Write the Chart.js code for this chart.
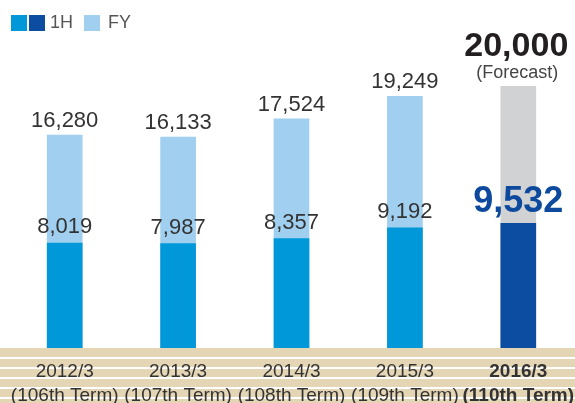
<!DOCTYPE html>
<html>
<head>
<meta charset="utf-8">
<script src="https://cdn.jsdelivr.net/npm/chart.js@4.4.0/dist/chart.umd.min.js"></script>
<style>
  body { margin: 0; background: #fff; font-family: "Liberation Sans", Arial, sans-serif; }
  #wrap { position: relative; width: 575px; height: 403px; }
  #legend { position: absolute; left: 11px; top: 12px; display: flex; align-items: center; font-size: 18px; color: #555; }
  #legend .sw { width: 16px; height: 16px; display: inline-block; }
</style>
</head>
<body>
<div id="wrap">
  <canvas id="salesChart" width="575" height="403"></canvas>
  <div id="legend">
    <span class="sw" style="background:#0098d9"></span>
    <span class="sw" style="background:#0c4da2;margin-left:2px"></span>
    <span style="margin-left:5px">1H</span>
    <span class="sw" style="background:#a0cfef;margin-left:11px"></span>
    <span style="margin-left:8px">FY</span>
  </div>
</div>
<script>
// chart values
const years = ['2012/3', '2013/3', '2014/3', '2015/3', '2016/3'];
const terms = ['(106th Term)', '(107th Term)', '(108th Term)', '(109th Term)', '(110th Term)'];
const firstHalf = [8019, 7987, 8357, 9192, 9532];
const fullYear = [16280, 16133, 17524, 19249, 20000];
const forecastNote = '(Forecast)';

const last = years.length - 1;
const fmt = v => v.toLocaleString('en-US');

// striped beige band under the bars
const stripes = {
  id: 'stripes',
  beforeDraw(chart) {
    const ctx = chart.ctx;
    const top = chart.chartArea.bottom;
    ctx.save();
    ctx.fillStyle = '#e4d5b5';
    ctx.fillRect(0, top, chart.width, chart.height - top);
    ctx.fillStyle = '#ffffff';
    for (let y = top + 9; y < chart.height; y += 10) {
      ctx.fillRect(0, y, chart.width, 2);
    }
    ctx.restore();
  }
};

// value labels over the bars
const valueLabels = {
  id: 'valueLabels',
  afterDatasetsDraw(chart) {
    const ctx = chart.ctx;
    const h1 = chart.getDatasetMeta(0).data;
    const fy = chart.getDatasetMeta(1).data;
    ctx.save();
    ctx.textAlign = 'center';
    ctx.textBaseline = 'alphabetic';
    for (let i = 0; i < years.length; i++) {
      if (i === last) {
        ctx.fillStyle = '#231f20';
        ctx.font = 'bold 34px "Liberation Sans", Arial, sans-serif';
        ctx.fillText(fmt(fullYear[i]), fy[i].x - 2, fy[i].y - 30);
        ctx.fillStyle = '#444';
        ctx.font = '18px "Liberation Sans", Arial, sans-serif';
        ctx.fillText(forecastNote, fy[i].x - 1, fy[i].y - 8);
        ctx.fillStyle = '#0d4a9e';
        ctx.font = 'bold 36px "Liberation Sans", Arial, sans-serif';
        ctx.fillText(fmt(firstHalf[i]), h1[i].x, h1[i].y - 11);
      } else {
        ctx.fillStyle = '#333';
        ctx.font = '22px "Liberation Sans", Arial, sans-serif';
        ctx.fillText(fmt(fullYear[i]), fy[i].x, fy[i].y - 8);
        ctx.fillText(fmt(firstHalf[i]), h1[i].x, h1[i].y - 10);
      }
    }
    ctx.restore();
  }
};

const ctx = document.getElementById('salesChart').getContext('2d');
new Chart(ctx, {
  type: 'bar',
  data: {
    labels: years.map((y, i) => [y, terms[i]]),
    datasets: [
      {
        label: '1H',
        data: firstHalf,
        backgroundColor: years.map((y, i) => i === last ? '#0c4da2' : '#0098d9'),
        grouped: false,
        barThickness: 35
      },
      {
        label: 'FY',
        data: fullYear,
        backgroundColor: years.map((y, i) => i === last ? '#d1d2d4' : '#a0cfef'),
        grouped: false,
        barThickness: 35
      }
    ]
  },
  options: {
    responsive: false,
    animation: false,
    layout: { padding: { top: 21, left: 8, right: 0, bottom: 0 } },
    plugins: {
      legend: { display: false },
      tooltip: { enabled: false }
    },
    scales: {
      x: {
        grid: { display: false, drawTicks: false },
        border: { display: false },
        ticks: {
          padding: 12,
          minRotation: 0,
          maxRotation: 0,
          autoSkip: false,
          color: '#333',
          font: c => ({
            family: '"Liberation Sans", Arial, sans-serif',
            size: 19,
            weight: c.index === last ? 'bold' : 'normal',
            lineHeight: 1.25
          })
        },
        afterFit(scale) {
          scale.height = 55;
          scale.paddingLeft = 0;
          scale.paddingRight = 0;
        }
      },
      y: {
        display: false,
        min: 0,
        max: 25000
      }
    }
  },
  plugins: [stripes, valueLabels]
});
</script>
</body>
</html>
